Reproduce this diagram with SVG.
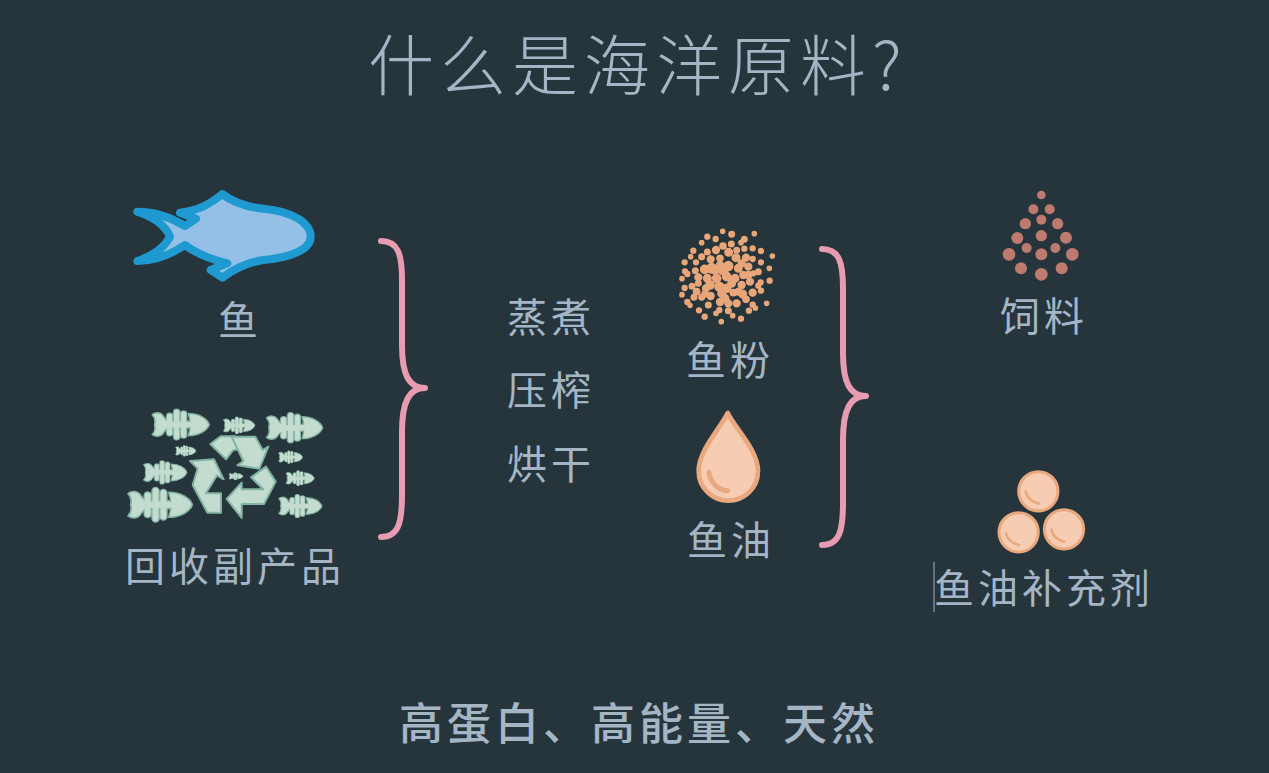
<svg xmlns="http://www.w3.org/2000/svg" xmlns:xlink="http://www.w3.org/1999/xlink" width="1269" height="773" viewBox="0 0 1269 773">
<style>
text{font-family:"Noto Sans CJK SC","Noto Sans",sans-serif;fill:#a4b5c5}
.l{font-size:40px;letter-spacing:4px;font-weight:400}
.t{font-size:66px;letter-spacing:6px;font-weight:200}
.b{font-size:44px;letter-spacing:4px;font-weight:500}
.brace{fill:none;stroke:#e79cb1;stroke-width:6;stroke-linecap:round;stroke-linejoin:round}
.r{fill:#c3dccf;stroke:#83b3a2;stroke-width:6;stroke-linejoin:round}
.p{fill:#e9a679;stroke:#e9a679;stroke-width:9}
.f{fill:#bd7a6e}
.oil{fill:#f6cdb2;stroke:#e9a87d;stroke-linejoin:round}
.sh{fill:none;stroke:#e9a87d;stroke-linecap:round}
.bo{fill:none;stroke:#83b3a2;stroke-linecap:round;stroke-linejoin:round}
.bf{fill:#c3dccf;stroke:#83b3a2;stroke-width:2.5;stroke-linejoin:round}
.bi{fill:none;stroke:#c3dccf;stroke-linecap:round}
</style>
<defs>
<g id="bone">
<path class="bo" stroke-width="13" d="M32,11V39M44,4V46M56,7V43"/>
<path class="bf" d="M64,6C84,6 97,16 100,25C97,34 84,44 64,44C68,32 68,18 64,6Z"/>
<path class="bf" d="M2,8C8,3 17,4 21,10C24,15 27,18 32,19H66V31H32C27,32 24,35 21,40C17,46 8,47 2,42C7,37 8,32 6,25C8,18 7,13 2,8Z"/>
<path class="bi" stroke-width="9" d="M32,11V39M44,4V46M56,7V43M20,25H68"/>
</g>
</defs>
<rect width="1269" height="773" fill="#26343c"/>
<text class="t" x="368" y="90">什么是海洋原料?</text>

<g id="node-fish">
<path transform="translate(120,180) scale(.3333)" fill="#94bfe6" stroke="#1f9ad1" stroke-width="24" stroke-linejoin="round" stroke-linecap="round" d="M52,95C100,95 150,110 195,138L228,116L180,98C235,92 270,72 307,42C345,72 390,82 430,86C520,94 572,130 572,170C572,208 515,232 430,240C385,247 345,265 307,293L272,270L322,250C280,240 235,225 195,195C150,225 100,243 52,243C105,225 135,200 150,170C135,135 105,112 52,95Z"/>
<text class="l" x="218" y="335">鱼</text>
</g>

<g id="node-byproduct">
<g transform="translate(120,400) scale(.3333)">
<use xlink:href="#bone" transform="translate(93,30) scale(1.75)"/>
<use xlink:href="#bone" transform="translate(308,52) scale(.97)"/>
<use xlink:href="#bone" transform="translate(436,40) scale(1.72)"/>
<use xlink:href="#bone" transform="translate(165,137) scale(.63)"/>
<use xlink:href="#bone" transform="translate(474,153) scale(.74)"/>
<use xlink:href="#bone" transform="translate(68,184) scale(1.33)"/>
<use xlink:href="#bone" transform="translate(326,218) scale(.43)"/>
<use xlink:href="#bone" transform="translate(496,213) scale(.87)"/>
<use xlink:href="#bone" transform="translate(20,265) scale(1.97)"/>
<use xlink:href="#bone" transform="translate(474,285) scale(1.32)"/>
<path class="r" d="M271,132L302,109H345L366,148L340,150L318,178Z"/>
<path class="r" d="M335,110H406L428,150L445,140L418,206L352,196L370,183Z"/>
<path class="r" d="M210,183L282,178L311,238L291,226L258,280H303V338H262L218,255L233,206Z"/>
<path class="r" d="M438,200L467,245L432,312H365V354L320,297L365,248V268H430L393,232Z"/>
</g>
<text class="l" x="125" y="581">回收副产品</text>
</g>

<g id="connectors">
<path class="brace" d="M381,241C398,241 402,254 402,280V345C402,375 409,388 425,388C409,388 402,402 402,432V495C402,524 398,537 381,537"/>
<path class="brace" d="M822,249C839,249 843,262 843,288V353C843,383 850,396 866,396C850,396 843,410 843,440V503C843,532 839,545 822,545"/>
</g>

<g id="node-process">
<text class="l" x="507" y="332">蒸煮</text>
<text class="l" x="507" y="405">压榨</text>
<text class="l" x="507" y="479">烘干</text>
</g>

<g id="node-meal">
<g transform="translate(670,220) scale(.3333)" class="p">
<circle cx="158" cy="34" r="4"/><circle cx="185" cy="43" r="6"/><circle cx="253" cy="41" r="4"/><circle cx="112" cy="50" r="5"/><circle cx="137" cy="57" r="5"/><circle cx="95" cy="68" r="4"/><circle cx="223" cy="58" r="6"/><circle cx="213" cy="68" r="4"/><circle cx="159" cy="78" r="7"/><circle cx="184" cy="72" r="6"/><circle cx="70" cy="92" r="5"/><circle cx="138" cy="90" r="8"/><circle cx="112" cy="96" r="6"/><circle cx="200" cy="91" r="6"/><circle cx="223" cy="86" r="5"/><circle cx="248" cy="85" r="5"/><circle cx="273" cy="93" r="5"/><circle cx="62" cy="110" r="4"/><circle cx="95" cy="110" r="6"/><circle cx="176" cy="97" r="9"/><circle cx="307" cy="108" r="4"/><circle cx="44" cy="127" r="5"/><circle cx="78" cy="127" r="5"/><circle cx="122" cy="118" r="8"/><circle cx="150" cy="115" r="7"/><circle cx="198" cy="113" r="9"/><circle cx="228" cy="113" r="8"/><circle cx="248" cy="117" r="5"/><circle cx="273" cy="127" r="5"/><circle cx="298" cy="145" r="4"/><circle cx="76" cy="152" r="6"/><circle cx="45" cy="154" r="5"/><circle cx="52" cy="162" r="5"/><circle cx="104" cy="148" r="10"/><circle cx="135" cy="150" r="10"/><circle cx="175" cy="138" r="11"/><circle cx="205" cy="145" r="9"/><circle cx="235" cy="140" r="8"/><circle cx="265" cy="155" r="6"/><circle cx="250" cy="160" r="5"/><circle cx="36" cy="176" r="4"/><circle cx="85" cy="172" r="8"/><circle cx="112" cy="175" r="9"/><circle cx="140" cy="175" r="10"/><circle cx="170" cy="170" r="10"/><circle cx="195" cy="175" r="9"/><circle cx="220" cy="165" r="8"/><circle cx="240" cy="185" r="8"/><circle cx="272" cy="187" r="5"/><circle cx="299" cy="182" r="5"/><circle cx="44" cy="204" r="5"/><circle cx="66" cy="199" r="6"/><circle cx="85" cy="190" r="6"/><circle cx="108" cy="205" r="8"/><circle cx="148" cy="200" r="11"/><circle cx="185" cy="190" r="9"/><circle cx="215" cy="195" r="8"/><circle cx="265" cy="197" r="5"/><circle cx="80" cy="215" r="7"/><circle cx="36" cy="224" r="4"/><circle cx="72" cy="232" r="6"/><circle cx="95" cy="232" r="6"/><circle cx="122" cy="228" r="8"/><circle cx="155" cy="220" r="9"/><circle cx="190" cy="218" r="7"/><circle cx="218" cy="222" r="9"/><circle cx="248" cy="218" r="8"/><circle cx="273" cy="212" r="5"/><circle cx="52" cy="246" r="5"/><circle cx="60" cy="256" r="4"/><circle cx="115" cy="255" r="6"/><circle cx="150" cy="246" r="8"/><circle cx="175" cy="250" r="8"/><circle cx="200" cy="250" r="8"/><circle cx="228" cy="238" r="7"/><circle cx="248" cy="254" r="5"/><circle cx="256" cy="264" r="4"/><circle cx="290" cy="250" r="4"/><circle cx="87" cy="271" r="5"/><circle cx="148" cy="270" r="5"/><circle cx="138" cy="280" r="4"/><circle cx="175" cy="272" r="6"/><circle cx="237" cy="272" r="5"/><circle cx="104" cy="290" r="5"/><circle cx="188" cy="287" r="4"/><circle cx="213" cy="296" r="5"/><circle cx="154" cy="305" r="4"/>
<circle cx="125" cy="145" r="12"/><circle cx="160" cy="150" r="12"/><circle cx="120" cy="195" r="10"/><circle cx="170" cy="205" r="10"/><circle cx="205" cy="215" r="8"/><circle cx="235" cy="165" r="8"/><circle cx="150" cy="135" r="8"/><circle cx="215" cy="130" r="8"/><circle cx="165" cy="235" r="9"/><circle cx="105" cy="222" r="7"/>
</g>
<text class="l" x="686" y="375">鱼粉</text>
</g>

<g id="node-oil">
<g transform="translate(680,405) scale(.3333)">
<path class="oil" stroke-width="14" d="M143,24C125,65 56,135 56,197C56,252 100,287 145,287C190,287 234,252 234,197C234,135 162,65 143,24Z"/>
<path class="sh" stroke-width="15" d="M87,202C90,232 115,256 143,257"/>
</g>
<text class="l" x="687" y="555">鱼油</text>
</g>

<g id="node-feed">
<g transform="translate(990,185) scale(.3333)" class="f">
<circle cx="154" cy="30" r="13"/><circle cx="130" cy="73" r="15"/><circle cx="179" cy="73" r="15"/><circle cx="154" cy="104" r="15"/><circle cx="106" cy="116" r="17"/><circle cx="203" cy="116" r="17"/><circle cx="154" cy="152" r="17"/><circle cx="82" cy="159" r="18"/><circle cx="228" cy="158" r="18"/><circle cx="110" cy="189" r="15"/><circle cx="196" cy="189" r="15"/><circle cx="57" cy="208" r="19"/><circle cx="154" cy="208" r="18"/><circle cx="247" cy="208" r="19"/><circle cx="93" cy="250" r="18"/><circle cx="215" cy="250" r="18"/><circle cx="154" cy="268" r="19"/>
</g>
<text class="l" x="1000" y="331">饲料</text>
</g>

<g id="node-supplement">
<g transform="translate(925,465) scale(.3333)">
<circle class="oil" stroke-width="9" cx="340" cy="79" r="59"/><path class="sh" stroke-width="8" d="M302,80C306,98 322,113 342,116"/>
<circle class="oil" stroke-width="9" cx="281" cy="202" r="59"/><path class="sh" stroke-width="8" d="M243,205C247,222 262,236 282,240"/>
<circle class="oil" stroke-width="9" cx="417" cy="193" r="59"/><path class="sh" stroke-width="8" d="M379,194C383,212 398,227 418,230"/>
</g>
<text class="l" x="934" y="603">鱼油补充剂</text>
<path d="M934,562V612" stroke="#a4b5c5" stroke-width="1" fill="none"/>
</g>

<text class="b" x="399" y="740">高蛋白、高能量、天然</text>
</svg>
